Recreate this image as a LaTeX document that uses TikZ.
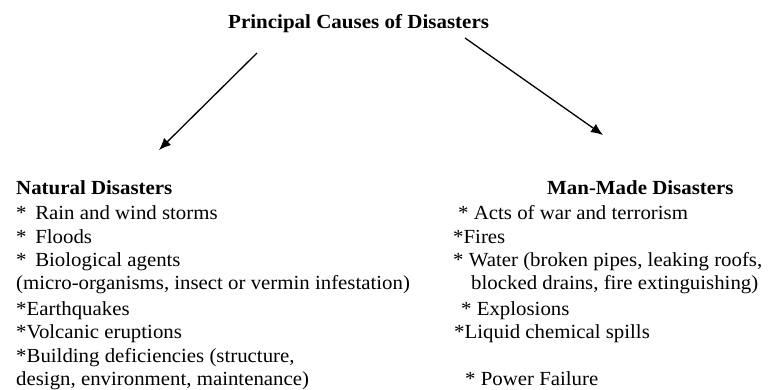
\documentclass[tikz,border=0pt]{standalone}
\usepackage{fontspec}
\setmainfont{Liberation Serif}
\usetikzlibrary{arrows.meta}
\begin{document}
\begin{tikzpicture}[x=1pt,y=-1pt,
  txt/.style={anchor=base west, inner sep=0pt, font=\fontsize{20}{24}\selectfont, xscale=1.042, transform shape},
  hd/.style={anchor=base west, inner sep=0pt, font=\fontsize{20}{24}\selectfont\bfseries, xscale=1.045, transform shape},
  arr/.style={line width=1.3pt, -{Latex[length=12pt,width=10pt]}}]
\useasboundingbox (0,0) rectangle (768,390);
% title
\node[hd, xscale=1.005] (title) at (228,29) {Principal Causes of Disasters};
\coordinate (ls) at (257,53);
\coordinate (lt) at (159,150);
\coordinate (rs) at (465,38);
\coordinate (rt) at (603,135);
\draw[arr] (ls) -- (lt);
\draw[arr] (rs) -- (rt);
% left column
\node[hd] (nat) at (16,195) {Natural Disasters};
\node[txt] (n1) at (16,219) {* \,Rain and wind storms};
\node[txt] (n2) at (16,243) {* \,Floods};
\node[txt] (n3) at (16,266) {* \,Biological agents};
\node[txt] (n4) at (16,289) {(micro-organisms, insect or vermin infestation)};
\node[txt] (n5) at (16,315) {*Earthquakes};
\node[txt] (n6) at (16,338) {*Volcanic eruptions};
\node[txt] (n7) at (16,362) {*Building deficiencies (structure,};
\node[txt] (n8) at (16,385) {design, environment, maintenance)};
% right column
\node[hd] (man) at (547,195) {Man-Made Disasters};
\node[txt] (m1) at (458,219) {* Acts of war and terrorism};
\node[txt] (m2) at (453,243) {*Fires};
\node[txt] (m3) at (453,266) {* Water (broken pipes, leaking roofs,};
\node[txt] (m4) at (471,289) {blocked drains, fire extinguishing)};
\node[txt] (m5) at (461,315) {* Explosions};
\node[txt] (m6) at (454,338) {*Liquid chemical spills};
\node[txt] (m7) at (465,385) {* Power Failure};
\end{tikzpicture}
\end{document}
